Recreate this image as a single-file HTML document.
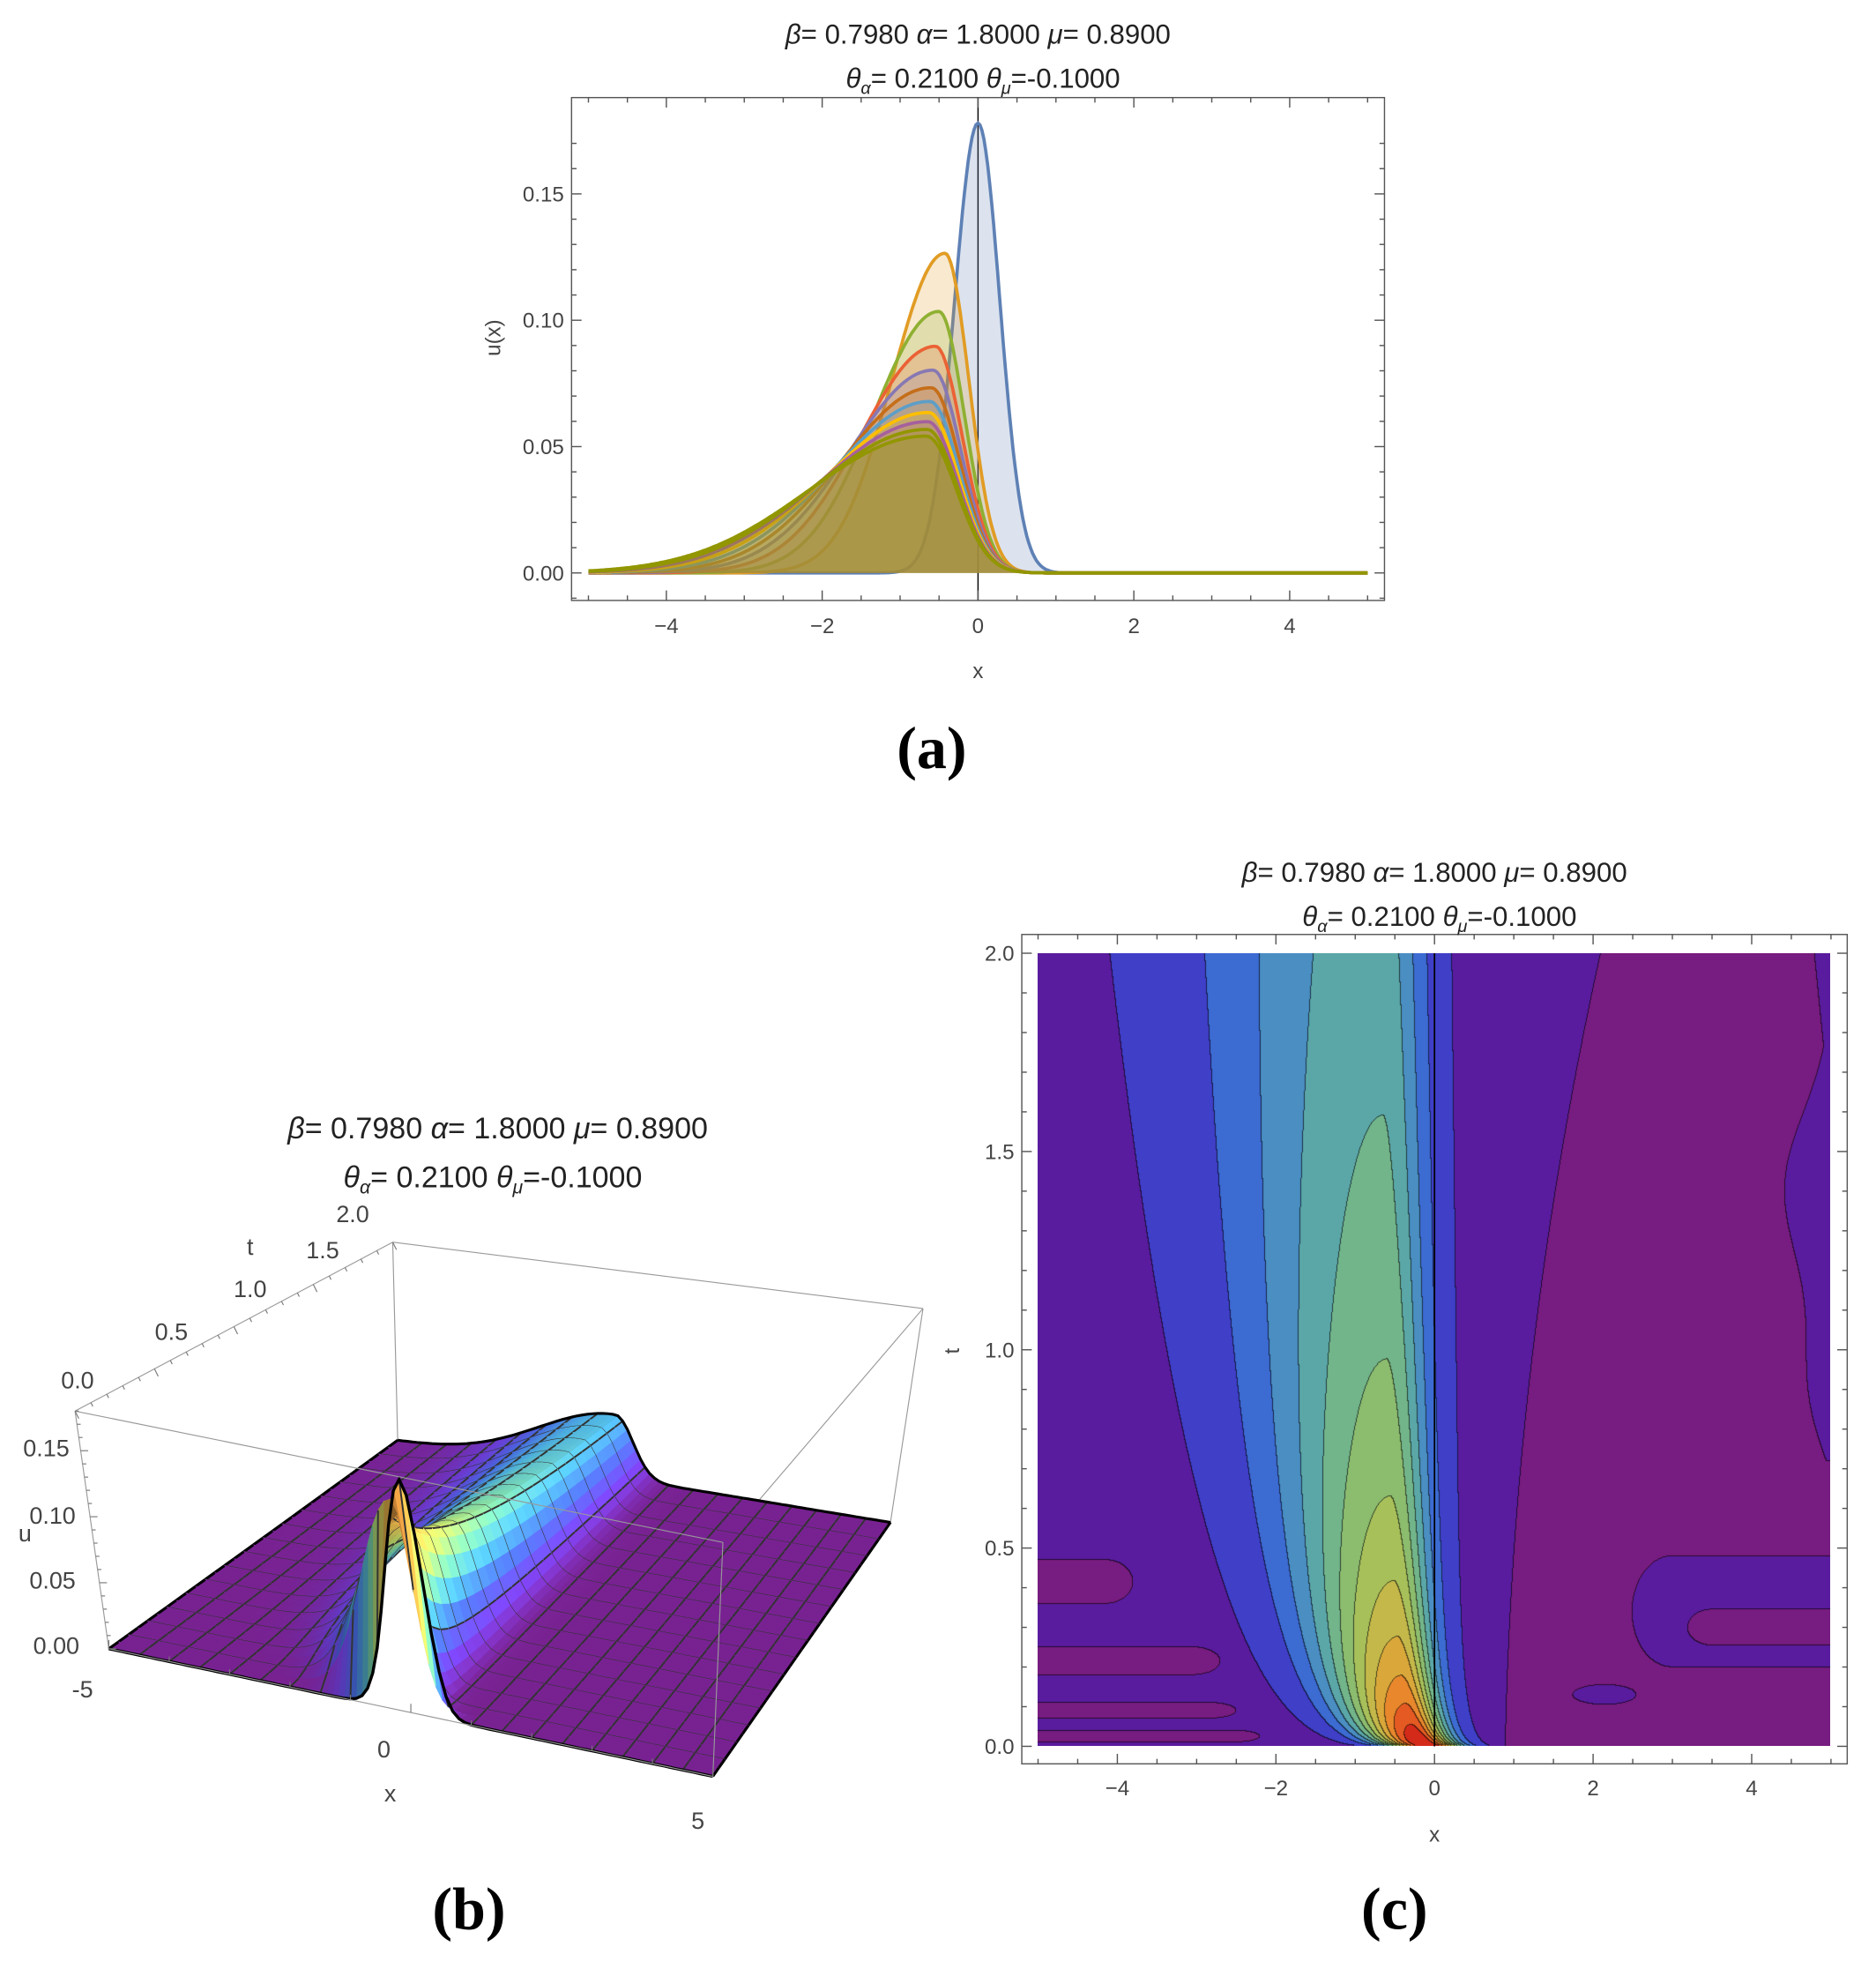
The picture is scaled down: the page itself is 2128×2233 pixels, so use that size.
<!DOCTYPE html>
<html><head><meta charset="utf-8">
<style>
html,body{margin:0;padding:0;background:#fff;}
#wrap{position:relative;width:2128px;height:2233px;overflow:hidden;}
svg{position:absolute;left:0;top:0;}
canvas{position:absolute;}
text{font-family:"Liberation Sans","DejaVu Sans",sans-serif;fill:#222;}
.t{font-size:22px;}
.tb{font-size:24px;}
.k{font-size:17px;fill:#444;}
.kb{font-size:19px;fill:#444;}
.big{font-family:"Liberation Serif",serif;font-size:48px;font-weight:bold;fill:#000;}
</style></head>
<body><div id="wrap">
<canvas id="cv"></canvas>
<svg id="sv" width="2128" height="2233" viewBox="0 0 1500 1574">
<g id="ga"></g>
<g id="gb"></g>
<g id="gc"></g>
<text class="t" x="782" y="35" text-anchor="middle"><tspan font-style="italic">β</tspan>= 0.7980 <tspan font-style="italic">α</tspan>= 1.8000 <tspan font-style="italic">μ</tspan>= 0.8900</text>
<text class="t" x="786" y="70" text-anchor="middle"><tspan font-style="italic">θ</tspan><tspan font-size="14" dy="5" font-style="italic">α</tspan><tspan dy="-5">= 0.2100 </tspan><tspan font-style="italic">θ</tspan><tspan font-size="14" dy="5" font-style="italic">μ</tspan><tspan dy="-5">=-0.1000</tspan></text>
<text class="k" x="782" y="542" text-anchor="middle">x</text>
<text class="k" transform="translate(400,270) rotate(-90)" text-anchor="middle">u(x)</text>
<text class="big" x="745" y="614" text-anchor="middle">(a)</text>
<text class="tb" x="398" y="910" text-anchor="middle"><tspan font-style="italic">β</tspan>= 0.7980 <tspan font-style="italic">α</tspan>= 1.8000 <tspan font-style="italic">μ</tspan>= 0.8900</text>
<text class="tb" x="394" y="949" text-anchor="middle"><tspan font-style="italic">θ</tspan><tspan font-size="15" dy="5" font-style="italic">α</tspan><tspan dy="-5">= 0.2100 </tspan><tspan font-style="italic">θ</tspan><tspan font-size="15" dy="5" font-style="italic">μ</tspan><tspan dy="-5">=-0.1000</tspan></text>
<text class="kb" x="62" y="1110" text-anchor="middle">0.0</text>
<text class="kb" x="137" y="1071" text-anchor="middle">0.5</text>
<text class="kb" x="200" y="1037" text-anchor="middle">1.0</text>
<text class="kb" x="258" y="1006" text-anchor="middle">1.5</text>
<text class="kb" x="282" y="977" text-anchor="middle">2.0</text>
<text class="kb" x="200" y="1003" text-anchor="middle">t</text>
<text class="kb" x="37" y="1164" text-anchor="middle">0.15</text>
<text class="kb" x="42" y="1218" text-anchor="middle">0.10</text>
<text class="kb" x="42" y="1270" text-anchor="middle">0.05</text>
<text class="kb" x="45" y="1322" text-anchor="middle">0.00</text>
<text class="kb" x="20" y="1232" text-anchor="middle">u</text>
<text class="kb" x="66" y="1357" text-anchor="middle">-5</text>
<text class="kb" x="307" y="1405" text-anchor="middle">0</text>
<text class="kb" x="558" y="1462" text-anchor="middle">5</text>
<text class="kb" x="312" y="1440" text-anchor="middle">x</text>
<text class="big" x="375" y="1542" text-anchor="middle">(b)</text>
<text class="t" x="1147" y="705" text-anchor="middle"><tspan font-style="italic">β</tspan>= 0.7980 <tspan font-style="italic">α</tspan>= 1.8000 <tspan font-style="italic">μ</tspan>= 0.8900</text>
<text class="t" x="1151" y="740" text-anchor="middle"><tspan font-style="italic">θ</tspan><tspan font-size="14" dy="5" font-style="italic">α</tspan><tspan dy="-5">= 0.2100 </tspan><tspan font-style="italic">θ</tspan><tspan font-size="14" dy="5" font-style="italic">μ</tspan><tspan dy="-5">=-0.1000</tspan></text>
<text class="k" x="1147" y="1472" text-anchor="middle">x</text>
<text class="k" transform="translate(767,1080) rotate(-90)" text-anchor="middle">t</text>
<text class="big" x="1115" y="1542" text-anchor="middle">(c)</text>
</svg>
</div>
<script>
var NS="http://www.w3.org/2000/svg";
function el(p,n,a){var e=document.createElementNS(NS,n);for(var k in a)e.setAttribute(k,a[k]);p.appendChild(e);return e;}
function f(x,t){var A=0.178/Math.sqrt(1+4.9*t),st=Math.sqrt(t),c=-0.9*st/(st+0.5),
sL=0.3+1.2*Math.sqrt(t/2),sR=0.28+0.12*(1-Math.exp(-t/0.8)),s=x<c?sL:sR;
return A*Math.exp(-(x-c)*(x-c)/(2*s*s));}
// ---------- (a)
var ga=document.getElementById('ga');
function AX(x){return 782+62.3*x;} function AY(u){return 458-2020*u;}
el(ga,'rect',{x:457,y:78,width:650,height:402,fill:'none',stroke:'#555','stroke-width':1});
el(ga,'line',{x1:782,y1:78,x2:782,y2:480,stroke:'#000','stroke-width':1});
for(var v=-5;v<=5.001;v+=0.5){var X=AX(v),maj=Math.abs(v/2-Math.round(v/2))<1e-6,L=maj?8:4;
el(ga,'line',{x1:X,y1:480,x2:X,y2:480-L,stroke:'#555'});el(ga,'line',{x1:X,y1:78,x2:X,y2:78+L,stroke:'#555'});
if(maj&&Math.abs(v)<5)el(ga,'text',{x:X,y:506,'text-anchor':'middle','class':'k'}).textContent=(v<0?'−':'')+Math.abs(v);}
for(var u=-0.01;u<=0.18;u+=0.01){var Y=AY(u),m=Math.round(u*100)%5==0,L=m?8:4;
el(ga,'line',{x1:457,y1:Y,x2:457+L,y2:Y,stroke:'#555'});el(ga,'line',{x1:1107,y1:Y,x2:1107-L,y2:Y,stroke:'#555'});
if(m&&u>-0.005)el(ga,'text',{x:451,y:Y+6,'text-anchor':'end','class':'k'}).textContent=(Math.round(u*100)/100).toFixed(2);}
var cols=['#5E81B5','#E19C24','#8FB032','#EB6235','#8778B3','#C56E1A','#5D9EC7','#FFBF00','#A5609D','#929600','#929600'];
for(var i=0;i<=10;i++){var t=0.2*i,p=[];for(var x=-5;x<=5.0001;x+=0.025){p.push(AX(x).toFixed(1)+','+AY(f(x,t)).toFixed(1));}
var line='M'+p.join('L');
el(ga,'path',{d:line+'L'+AX(5)+','+AY(0)+'L'+AX(-5)+','+AY(0)+'Z',fill:cols[i],'fill-opacity':0.22,stroke:'none'});
el(ga,'path',{d:line,fill:'none',stroke:cols[i],'stroke-width':2.6});}
// ---------- (c)
var gc=document.getElementById('gc');
el(gc,'rect',{x:817,y:747,width:660,height:663,fill:'none',stroke:'#555'});
function CX(x){return 1147+63.4*x;} function CY(t){return 1396-317*t;}
for(var v=-5;v<=5.001;v+=0.5){var X=CX(v),maj=Math.abs(v/2-Math.round(v/2))<1e-6,L=maj?8:4;
el(gc,'line',{x1:X,y1:1410,x2:X,y2:1410-L,stroke:'#555'});el(gc,'line',{x1:X,y1:747,x2:X,y2:747+L,stroke:'#555'});
if(maj&&Math.abs(v)<5)el(gc,'text',{x:X,y:1435,'text-anchor':'middle','class':'k'}).textContent=(v<0?'−':'')+Math.abs(v);}
for(var k=0;k<=20;k++){var tt=k*0.1,Y=CY(tt),m=k%5==0,L=m?8:4;
el(gc,'line',{x1:817,y1:Y,x2:817+L,y2:Y,stroke:'#555'});el(gc,'line',{x1:1477,y1:Y,x2:1477-L,y2:Y,stroke:'#555'});
if(m)el(gc,'text',{x:811,y:Y+6,'text-anchor':'end','class':'k'}).textContent=tt.toFixed(1);}
var S=2128/1500;
var cv=document.getElementById('cv');var W=Math.round(634*S),H=Math.round(634*S);
cv.width=W;cv.height=H;cv.style.left=(830*S)+'px';cv.style.top=(762*S)+'px';
var ctx=cv.getContext('2d'),img=ctx.createImageData(W,H);
var pal=[[0x77,0x1C,0x80],[0x5A,0x1C,0x9E],[0x3F,0x3F,0xC8],[0x3C,0x6B,0xD2],[0x4A,0x8E,0xC2],[0x5B,0xA7,0xA8],[0x72,0xB5,0x8A],[0x8C,0xBC,0x6E],[0xA8,0xC0,0x5A],[0xC4,0xB8,0x4A],[0xDA,0xA8,0x3A],[0xE8,0x87,0x2C],[0xE4,0x5A,0x22],[0xD4,0x2A,0x1A]];
var stripes=[[0.36,0.47,-3.8],[0.18,0.25,-2.7],[0.07,0.11,-2.5],[0.01,0.04,-2.2]];
var lv=new Int8Array(W*H);
for(var j=0;j<H;j++){var t=2-2*j/H;for(var i=0;i<W;i++){var x=-5+10*i/W;
var g=f(x,t);var xb=0.9+0.1*t+0.25*t*t;var L;
if(x>xb&&g<0.004)L=0;else if(g<0.004)L=1;else L=Math.min(13,2+Math.floor((g-0.004)/0.014));
if(L==1){for(var s=0;s<stripes.length;s++){var st=stripes[s],tm=(st[0]+st[1])/2,hw=(st[1]-st[0])/2;var dtn=Math.abs(t-tm)/hw;
if(dtn<1){var xe=st[2]+0.35*Math.sqrt(1-dtn*dtn)-0.35;if(x<xe)L=0;}}}
if(L==0){
 if(t>0.72&&t<1.8){var ph=(t-0.72)/1.08;var xl=4.95-0.6*Math.sin(ph*Math.PI)*(0.75+0.25*Math.cos(ph*9));if(x>xl)L=1;}
 if(t>1.72&&x>4.8+0.5*(2-t))L=1;
 if(t>0.2&&t<0.48){var tm=0.34,hw=0.14,dn=Math.abs(t-tm)/hw;var xl=2.5+0.5*(1-Math.sqrt(Math.max(0,1-dn*dn)));
  if(x>xl){L=1;var dn2=Math.abs(t-0.3)/0.045;if(dn2<1&&x>3.2+0.3*(1-Math.sqrt(1-dn2*dn2)))L=0;}}
 var e1=((x-2.15)/0.4)*((x-2.15)/0.4)+((t-0.13)/0.025)*((t-0.13)/0.025);if(e1<1)L=1;
}
lv[j*W+i]=L;}}
for(var j=0;j<H;j++)for(var i=0;i<W;i++){var L=lv[j*W+i],c=pal[L],o=4*(j*W+i);
var b=(i<W-1&&lv[j*W+i+1]!=L)||(j<H-1&&lv[(j+1)*W+i]!=L);
img.data[o]=b?c[0]*0.35:c[0];img.data[o+1]=b?c[1]*0.35:c[1];img.data[o+2]=b?c[2]*0.35:c[2];img.data[o+3]=255;}
ctx.putImageData(img,0,0);
el(gc,'line',{x1:1147,y1:762,x2:1147,y2:1396,stroke:'#000','stroke-width':1.2});
// ---------- (b)
var gb=document.getElementById('gb');
var B={FL:[87,1318],BL:[318,1152],BR:[712,1217],FR:[570,1420]},T={FL:[60,1128],BL:[314,993],BR:[738,1046],FR:[578,1233]};
function bil(C,x,t){var a=(x+5)/10,b=t/2;
return [(1-a)*(1-b)*C.FL[0]+a*(1-b)*C.FR[0]+(1-a)*b*C.BL[0]+a*b*C.BR[0],(1-a)*(1-b)*C.FL[1]+a*(1-b)*C.FR[1]+(1-a)*b*C.BL[1]+a*b*C.BR[1]];}
function P(x,t,z){var p=bil(B,x,t),q=bil(T,x,t),r=z/0.18;return [p[0]+r*(q[0]-p[0]),p[1]+r*(q[1]-p[1])];}
function ln(a,b,w,c){el(gb,'line',{x1:a[0],y1:a[1],x2:b[0],y2:b[1],stroke:c||'#999','stroke-width':w||0.8});}
ln(B.BL,B.BR);ln(B.BL,T.BL);ln(B.BR,T.BR);ln(T.BL,T.BR);ln(T.FL,T.BL);ln(T.FL,B.FL);ln(T.BR,T.FR);
var stops=[[0,[0x78,0x22,0x92]],[0.1,[0x70,0x40,0xE0]],[0.2,[0x4C,0x70,0xF0]],[0.3,[0x50,0xB8,0xE8]],[0.4,[0x80,0xE0,0xB0]],[0.5,[0xC8,0xE8,0x70]],[0.65,[0xF0,0xC0,0x50]],[0.85,[0xC0,0x70,0x30]],[1,[0x80,0x30,0x10]]];
function cm(r,sh){r=Math.max(0,Math.min(1,r));for(var k=1;k<stops.length;k++)if(r<=stops[k][0]){var a=(r-stops[k-1][0])/(stops[k][0]-stops[k-1][0]),c0=stops[k-1][1],c1=stops[k][1];
return 'rgb('+[0,1,2].map(function(q){return Math.min(255,Math.round((c0[q]+a*(c1[q]-c0[q]))*sh));}).join(',')+')';}return 'rgb(128,48,16)';}
var NX=100,NT=30,dx=10/NX,dt=2/NT;
for(var jt=NT-1;jt>=0;jt--){var t0=jt*dt,t1=t0+dt;
 for(var ix=NX-1;ix>=0;ix--){var x0=-5+ix*dx,x1=x0+dx;
  var z00=f(x0,t0),z10=f(x1,t0),z01=f(x0,t1),z11=f(x1,t1);
  var pts=[P(x0,t0,z00),P(x1,t0,z10),P(x1,t1,z11),P(x0,t1,z01)];
  var zm=(z00+z10+z01+z11)/4,slope=(z10+z11-z00-z01)/2/dx;var sh=Math.max(0.65,Math.min(1.15,1-slope*3));
  var col=cm(zm/0.18,sh);
  el(gb,'polygon',{points:pts.map(function(p){return p[0].toFixed(1)+','+p[1].toFixed(1);}).join(' '),fill:col,stroke:col,'stroke-width':0.6});}
 for(var ix=0;ix<=NX;ix+=5){var x=-5+ix*dx,a=P(x,t0,f(x,t0)),b=P(x,t1,f(x,t1));ln(a,b,ix==0||ix==NX?2.2:1.4,ix==0||ix==NX?'#000':'#333');}
 if(jt%2==0){var d='';for(var ix=0;ix<=NX;ix++){var x=-5+ix*dx,p=P(x,t0,f(x,t0));d+=(ix?'L':'M')+p[0].toFixed(1)+','+p[1].toFixed(1);}
  el(gb,'path',{d:d,fill:'none',stroke:jt==0?'#000':'#333','stroke-width':jt==0?2.4:1.4});}
 if(jt==NT-1){var d='';for(var ix=0;ix<=NX;ix++){var x=-5+ix*dx,p=P(x,2,f(x,2));d+=(ix?'L':'M')+p[0].toFixed(1)+','+p[1].toFixed(1);}
  el(gb,'path',{d:d,fill:'none',stroke:'#000','stroke-width':2.2});}
}
ln(B.FL,B.FR);ln(B.FR,T.FR);ln(T.FL,T.FR);
for(var k=0;k<=20;k++){var a=P(-5,k*0.1,0.18);var L=k%5==0?6:3;ln([a[0],a[1]],[a[0]+L*0.5,a[1]+L],0.8,'#777');}
for(var k=0;k<=18;k++){var a=P(-5,0,k*0.01);var L=k%5==0?6:3;ln(a,[a[0]+L,a[1]],0.8,'#777');}
for(var k=-5;k<=5;k++){var a=P(k,0,0);ln(a,[a[0],a[1]-(k%5==0?7:4)],0.8,'#777');}
</script>
</body></html>
